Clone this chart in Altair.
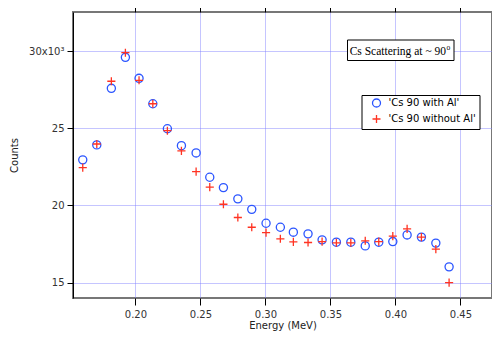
import altair as alt
import pandas as pd

energy = [0.1595, 0.1703, 0.1815, 0.1923, 0.2028, 0.2134, 0.2246, 0.2354, 0.2467,
          0.2572, 0.2677, 0.2788, 0.2895, 0.3005, 0.3115, 0.3215, 0.3328, 0.3436,
          0.3546, 0.3657, 0.3768, 0.3872, 0.3980, 0.4090, 0.4200, 0.4311, 0.4413]
with_al = [22960, 23930, 27600, 29610, 28250, 26600, 24980, 23880, 23410,
           21830, 21160, 20430, 19750, 18850, 18590, 18270, 18160, 17770,
           17620, 17620, 17380, 17620, 17660, 18090, 17950, 17560, 16020]
without_al = [22460, 23990, 28060, 29910, 28120, 26600, 24850, 23540, 22200,
              21190, 20080, 19220, 18590, 18240, 17840, 17640, 17600, 17660,
              17580, 17580, 17710, 17660, 18010, 18480, 17950, 17170, 15000]
series_names = ["'Cs 90 with Al'", "'Cs 90 without Al'"]
x_ticks = [0.20, 0.25, 0.30, 0.35, 0.40, 0.45]
y_ticks = [15000, 20000, 25000, 30000]
annotation = "Cs Scattering at ~ 90"
annotation_sup = "o"

n = len(energy)
df = pd.DataFrame({
    "energy": energy * 2,
    "counts": with_al + without_al,
    "series": [series_names[0]] * n + [series_names[1]] * n,
})

FONT = "DejaVu Sans"
grid_color = "#8080ff"

xscale = alt.Scale(domain=[0.152, 0.4743], nice=False, zero=False)
yscale = alt.Scale(domain=[14000, 32550], nice=False, zero=False)

color_scale = alt.Scale(domain=series_names, range=["#2b55ff", "#ff3322"])
shape_scale = alt.Scale(domain=series_names, range=["circle", "M-1,0H1M0,-1V1"])

legend = alt.Legend(
    title=None, orient="none", legendX=288.5, legendY=83,
    strokeColor="black", padding=3, labelFont=FONT, labelFontSize=10,
    labelColor="black", symbolStrokeWidth=1.3, symbolSize=64, rowPadding=2,
    symbolOffset=7, labelOffset=7, fillColor="white",
)

points = alt.Chart(df).mark_point(filled=False, size=66, strokeWidth=1.3, opacity=1).encode(
    x=alt.X("energy:Q", scale=xscale,
            axis=alt.Axis(orient="bottom", values=x_ticks, format=".2f", title="Energy (MeV)",
                          domain=False, tickColor="black", tickSize=7,
                          labelFont=FONT, labelFontSize=10, labelColor="#333",
                          labelPadding=4, titleFont=FONT, titleFontSize=10,
                          titleFontWeight="normal", titleColor="#222",
                          titleBaseline="alphabetic", titleY=30.5,
                          grid=True, gridColor=grid_color, gridDash=[1, 1],
                          gridWidth=1, gridOpacity=0.9)),
    y=alt.Y("counts:Q", scale=yscale,
            axis=alt.Axis(values=y_ticks,
                          labelExpr="datum.value == 30000 ? '30x10³' : format(datum.value / 1000, 'd')",
                          title="Counts", domain=True, domainColor="black", domainWidth=1,
                          tickColor="black", tickSize=6,
                          labelFont=FONT, labelFontSize=10, labelColor="#333",
                          labelPadding=3, titleFont=FONT, titleFontSize=10,
                          titleFontWeight="normal", titleColor="#222", titlePadding=9,
                          grid=True, gridColor=grid_color, gridDash=[1, 1],
                          gridWidth=1, gridOpacity=0.9)),
    color=alt.Color("series:N", scale=color_scale, legend=legend),
    shape=alt.Shape("series:N", scale=shape_scale, legend=legend),
)

top_axis = alt.Chart(df).mark_point(opacity=0).encode(
    x=alt.X("energy:Q", scale=xscale,
            axis=alt.Axis(orient="top", values=x_ticks, labels=False, title=None,
                          domain=False, tickColor="black", tickSize=7, grid=False)),
)

ann_df = pd.DataFrame({"label": [annotation], "sup": [annotation_sup]})
box = alt.Chart(ann_df).mark_rect(fill="white", stroke="black", strokeWidth=1).encode(
    x=alt.value(274.5), x2=alt.value(381), y=alt.value(28), y2=alt.value(48.5),
)
ann_text = alt.Chart(ann_df).mark_text(
    font="Liberation Serif", fontSize=11.5, align="right", baseline="alphabetic", color="black"
).encode(text="label:N", x=alt.value(373), y=alt.value(43))
ann_sup = alt.Chart(ann_df).mark_text(
    font="Liberation Serif", fontSize=7.5, align="left", baseline="alphabetic", color="black"
).encode(text="sup:N", x=alt.value(373.5), y=alt.value(37.5))

chart = alt.layer(points, top_axis, box, ann_text, ann_sup).resolve_axis(
    x="independent"
).properties(
    width=419, height=286,
    autosize=alt.AutoSizeParams(type="none"),
    padding={"left": 65, "top": 4, "right": 0, "bottom": 33},
).configure_view(stroke="#777", strokeWidth=2)

chart.save("out.html", embed_options={"renderer": "svg", "actions": False})
